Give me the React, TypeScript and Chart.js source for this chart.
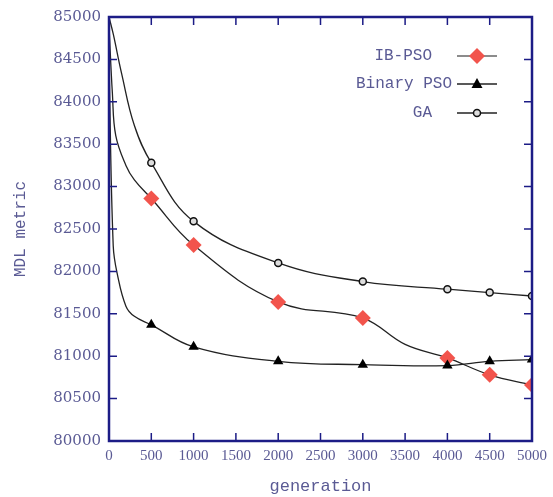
import React, { useEffect, useRef } from "react";
import { Chart, registerables } from "chart.js";

Chart.register(...registerables);

// generations at which markers were plotted
const markerGenerations = [500, 1000, 2000, 3000, 4000, 4500, 5000];

// curve samples (extra samples trace the curve shape between markers)
const ibPsoGenerations = [0, 40, 80, 200, 300, 500, 1000, 2000, 3000, 3500, 4000, 4500, 5000];
const ibPso = [84900, 84100, 83600, 83250, 83080, 82860, 82310, 81640, 81450, 81140, 80980, 80780, 80660];

const binaryPsoGenerations = [0, 50, 100, 200, 300, 500, 1000, 2000, 3000, 4000, 4500, 5000];
const binaryPso = [84500, 82300, 81960, 81590, 81470, 81370, 81110, 80940, 80900, 80890, 80940, 80960];

const gaGenerations = [0, 50, 150, 300, 500, 1000, 2000, 3000, 4000, 4500, 5000];
const ga = [85000, 84800, 84330, 83720, 83280, 82590, 82100, 81880, 81790, 81750, 81710];

const seriesNames = ["IB-PSO", "Binary PSO", "GA"];
const yMin = 80000;
const yMax = 85000;
const yStep = 500;
const xMin = 0;
const xMax = 5000;
const xStep = 500;

const AXIS_COLOR = "#1c1c86";
const TEXT_COLOR = "#5a5a94";
const LINE_COLOR = "#222222";
const DIAMOND_COLOR = "#f2544c";

const toPoints = (gens: number[], ys: number[]) => gens.map((g, i) => ({ x: g, y: ys[i] }));
const radii = (gens: number[], r: number) => gens.map((g) => (markerGenerations.includes(g) ? r : 0));

const framePlugin = {
  id: "frame",
  afterDraw(chart: any) {
    const { ctx, chartArea, scales } = chart;
    const { left, right, top, bottom } = chartArea;
    ctx.save();
    ctx.strokeStyle = AXIS_COLOR;
    ctx.lineWidth = 2.5;
    ctx.strokeRect(left, top, right - left, bottom - top);
    ctx.lineWidth = 1.5;
    const tl = 8;
    for (let v = yMin + yStep; v < yMax; v += yStep) {
      const y = scales.y.getPixelForValue(v);
      ctx.beginPath();
      ctx.moveTo(left, y);
      ctx.lineTo(left + tl, y);
      ctx.moveTo(right, y);
      ctx.lineTo(right - tl, y);
      ctx.stroke();
    }
    for (let v = xMin + xStep; v < xMax; v += xStep) {
      const x = scales.x.getPixelForValue(v);
      ctx.beginPath();
      ctx.moveTo(x, bottom);
      ctx.lineTo(x, bottom - tl);
      ctx.moveTo(x, top);
      ctx.lineTo(x, top + tl);
      ctx.stroke();
    }
    // legend
    const rows = [
      { name: seriesNames[0], textEnd: right - 100, y: top + 39 },
      { name: seriesNames[1], textEnd: right - 80, y: top + 67 },
      { name: seriesNames[2], textEnd: right - 100, y: top + 96 },
    ];
    ctx.font = "16px 'Liberation Mono'";
    ctx.textAlign = "right";
    ctx.textBaseline = "middle";
    const sx0 = right - 75;
    const sx1 = right - 35;
    const mx = (sx0 + sx1) / 2;
    rows.forEach((r, i) => {
      ctx.fillStyle = TEXT_COLOR;
      ctx.fillText(r.name, r.textEnd, r.y);
      ctx.lineWidth = 1.5;
      ctx.strokeStyle = i === 0 ? "#666666" : LINE_COLOR;
      ctx.beginPath();
      ctx.moveTo(sx0, r.y);
      ctx.lineTo(sx1, r.y);
      ctx.stroke();
      ctx.beginPath();
      if (i === 0) {
        ctx.fillStyle = DIAMOND_COLOR;
        ctx.moveTo(mx, r.y - 8);
        ctx.lineTo(mx + 8, r.y);
        ctx.lineTo(mx, r.y + 8);
        ctx.lineTo(mx - 8, r.y);
        ctx.closePath();
        ctx.fill();
      } else if (i === 1) {
        ctx.fillStyle = "#000000";
        ctx.moveTo(mx, r.y - 6);
        ctx.lineTo(mx + 5.5, r.y + 4);
        ctx.lineTo(mx - 5.5, r.y + 4);
        ctx.closePath();
        ctx.fill();
      } else {
        ctx.fillStyle = "#dddddd";
        ctx.strokeStyle = "#111111";
        ctx.arc(mx, r.y, 3.5, 0, Math.PI * 2);
        ctx.fill();
        ctx.stroke();
      }
    });
    ctx.restore();
  },
};

export default function App() {
  const ref = useRef<HTMLCanvasElement>(null);
  useEffect(() => {
    document.body.style.margin = "0";
    const common = {
      borderColor: LINE_COLOR,
      borderWidth: 1.3,
      tension: 0.4,
      cubicInterpolationMode: "default",
    };
    const chart = new Chart(ref.current!, {
      type: "line",
      data: {
        datasets: [
          {
            ...common,
            label: seriesNames[2],
            data: toPoints(gaGenerations, ga),
            pointStyle: "circle",
            pointRadius: radii(gaGenerations, 3.5),
            pointBackgroundColor: "#dddddd",
            pointBorderColor: "#111111",
            pointBorderWidth: 1.5,
          },
          {
            ...common,
            label: seriesNames[1],
            data: toPoints(binaryPsoGenerations, binaryPso),
            pointStyle: "triangle",
            pointRadius: radii(binaryPsoGenerations, 6),
            pointBackgroundColor: "#000000",
            pointBorderColor: "#000000",
            pointBorderWidth: 0,
          },
          {
            ...common,
            label: seriesNames[0],
            data: toPoints(ibPsoGenerations, ibPso),
            pointStyle: "rectRot",
            pointRadius: radii(ibPsoGenerations, 8),
            pointBackgroundColor: DIAMOND_COLOR,
            pointBorderColor: DIAMOND_COLOR,
            pointBorderWidth: 0,
          },
        ] as any,
      },
      options: {
        animation: false,
        responsive: false,
        events: [],
        layout: { padding: { left: 0, top: 16, right: 20, bottom: 0 } },
        plugins: { legend: { display: false }, tooltip: { enabled: false } },
        scales: {
          x: {
            type: "linear",
            min: xMin,
            max: xMax,
            afterFit: (s: any) => {
              s.height = 56;
            },
            grid: { display: false, drawTicks: false },
            border: { display: false },
            ticks: {
              stepSize: xStep,
              autoSkip: false,
              maxRotation: 0,
              padding: 6,
              color: TEXT_COLOR,
              font: { family: "'Liberation Serif'", size: 15 },
              callback: (v: any) => String(v),
            },
            title: {
              display: true,
              text: "generation",
              color: TEXT_COLOR,
              font: { family: "'Liberation Mono'", size: 17 },
              padding: { top: 0, bottom: 0 },
            },
          },
          y: {
            type: "linear",
            min: yMin,
            max: yMax,
            afterFit: (s: any) => {
              s.width = 109;
            },
            grid: { display: false, drawTicks: false },
            border: { display: false },
            ticks: {
              stepSize: yStep,
              autoSkip: false,
              padding: 8,
              color: TEXT_COLOR,
              font: { family: "'DejaVu Serif'", size: 15 },
              callback: (v: any) => String(v),
            },
            title: {
              display: true,
              text: "MDL metric",
              color: TEXT_COLOR,
              font: { family: "'Liberation Mono'", size: 16 },
              padding: { top: 11, bottom: 0 },
            },
          },
        },
      },
      plugins: [framePlugin],
    });
    return () => chart.destroy();
  }, []);
  return (
    <div style={{ width: 553, height: 497 }}>
      <canvas ref={ref} width={553} height={497} />
    </div>
  );
}
